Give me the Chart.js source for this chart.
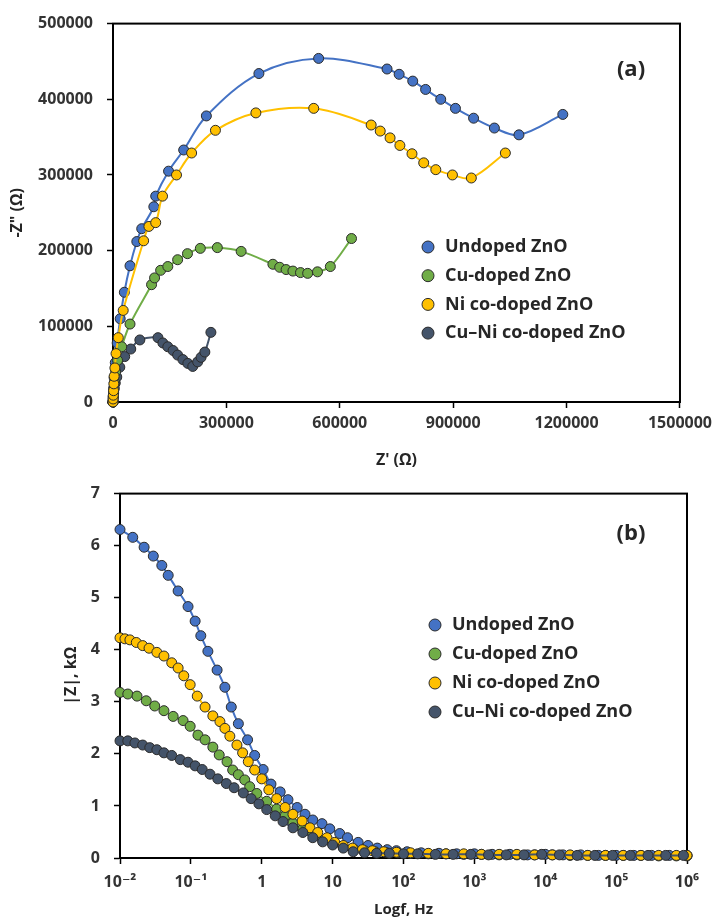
<!DOCTYPE html>
<html>
<head>
<meta charset="utf-8">
<script src="https://cdn.jsdelivr.net/npm/chart.js@4.4.0/dist/chart.umd.min.js"></script>
<style>
  html, body { margin: 0; padding: 0; background: #fff; }
  #wrap { position: relative; width: 718px; height: 921px; }
  canvas { position: absolute; left: 0; }
  #nyquist { top: 0; }
  #bode { top: 470px; }
</style>
</head>
<body>
<div id="wrap">
  <canvas id="nyquist" width="718" height="470"></canvas>
  <canvas id="bode" width="718" height="451"></canvas>
</div>
<script>
const seriesNames = ["Undoped ZnO", "Cu-doped ZnO", "Ni co-doped ZnO", "Cu\u2013Ni co-doped ZnO"];
const seriesColors = ["#4472C4", "#70AD47", "#FFC000", "#44546A"];

// (a) Nyquist: Z' and -Z'' in ohm
const undopedZre = [0, 600, 1500, 3000, 6000, 11000, 19000, 30000, 45000, 63000, 76000, 108000, 113000, 147000, 187000, 247000, 386000, 544000, 725000, 757000, 793000, 827000, 867000, 906000, 954000, 1009000, 1074000, 1190000];
const undopedZim = [0, 8000, 18000, 32000, 52000, 78000, 110000, 145000, 180000, 212000, 229000, 258000, 272000, 305000, 333000, 378000, 434000, 454000, 440000, 433000, 424000, 413000, 400000, 388000, 375000, 362000, 353000, 380000];
const cuZre = [0, 500, 1500, 3500, 7000, 12000, 23000, 45000, 102000, 110000, 126000, 145000, 171000, 197000, 231000, 276000, 339000, 423000, 441000, 458000, 476000, 496000, 515000, 541000, 575000, 631000];
const cuZim = [0, 6000, 14000, 26000, 40000, 55000, 73000, 103000, 155000, 164000, 174000, 179000, 188000, 196000, 203000, 204000, 199000, 182000, 178000, 175000, 173000, 171000, 170000, 172000, 179000, 216000];
const niZre = [0, 300, 800, 1500, 2200, 3000, 5000, 8000, 14000, 27000, 81000, 95000, 113000, 131000, 168000, 208000, 271000, 378000, 531000, 683000, 707000, 733000, 759000, 791000, 822000, 854000, 898000, 948000, 1038000];
const niZim = [0, 4000, 9000, 15000, 24000, 34000, 45000, 64000, 85000, 121000, 213000, 232000, 237000, 272000, 300000, 329000, 359000, 382000, 388000, 366000, 358000, 349000, 339000, 328000, 316000, 307000, 300000, 296000, 329000];
const cuniZre = [0, 300, 800, 1800, 3500, 6000, 10000, 18000, 31000, 47000, 71000, 119000, 132000, 145000, 159000, 171000, 185000, 198000, 211000, 224000, 233000, 243000, 259000];
const cuniZim = [0, 3000, 7000, 12000, 18000, 25000, 33000, 46000, 60000, 70000, 82000, 85000, 78000, 73000, 68000, 62000, 56000, 51000, 47000, 53000, 59000, 66000, 92000];

// (b) |Z| in kOhm against log f
const undopedLogF = [-2.0, -1.82, -1.66, -1.53, -1.41, -1.32, -1.18, -1.04, -0.94, -0.86, -0.76, -0.63, -0.52, -0.43, -0.33, -0.20, -0.10, 0.02, 0.13, 0.26, 0.37, 0.50, 0.61, 0.72, 0.85, 0.96, 1.10, 1.21, 1.36, 1.5, 1.63, 1.77, 1.9, 2.05, 2.25, 2.5, 2.75, 3.0, 3.25, 3.5, 3.75, 4.0, 4.25, 4.5, 4.75, 5.0, 5.25, 5.5, 5.75, 6.0];
const undopedMod = [6.31, 6.16, 5.97, 5.80, 5.62, 5.43, 5.13, 4.83, 4.55, 4.27, 3.97, 3.61, 3.28, 2.90, 2.58, 2.27, 1.97, 1.70, 1.42, 1.27, 1.12, 0.97, 0.84, 0.73, 0.66, 0.56, 0.47, 0.39, 0.30, 0.24, 0.19, 0.16, 0.14, 0.12, 0.10, 0.09, 0.08, 0.08, 0.07, 0.07, 0.06, 0.07, 0.06, 0.06, 0.05, 0.05, 0.05, 0.05, 0.05, 0.05];
const cuLogF = [-2.0, -1.89, -1.76, -1.63, -1.51, -1.38, -1.25, -1.11, -1.01, -0.90, -0.80, -0.69, -0.60, -0.49, -0.41, -0.33, -0.24, -0.17, -0.07, 0.07, 0.21, 0.33, 0.44, 0.58, 0.72, 0.86, 1.00, 1.15, 1.3, 1.45, 1.6, 1.75, 1.92, 2.1, 2.35, 2.6, 2.85, 3.1, 3.35, 3.6, 3.85, 4.1, 4.35, 4.6, 4.85, 5.1, 5.35, 5.6, 5.85, 6.0];
const cuMod = [3.18, 3.15, 3.11, 3.02, 2.92, 2.83, 2.72, 2.64, 2.53, 2.36, 2.27, 2.13, 1.98, 1.85, 1.69, 1.60, 1.50, 1.37, 1.24, 1.09, 0.94, 0.81, 0.67, 0.56, 0.47, 0.34, 0.28, 0.21, 0.17, 0.14, 0.12, 0.11, 0.10, 0.09, 0.08, 0.08, 0.07, 0.07, 0.06, 0.06, 0.06, 0.06, 0.05, 0.05, 0.05, 0.05, 0.05, 0.04, 0.04, 0.04];
const niLogF = [-2.0, -1.93, -1.86, -1.77, -1.68, -1.59, -1.48, -1.38, -1.27, -1.18, -1.10, -1.01, -0.91, -0.80, -0.69, -0.59, -0.52, -0.45, -0.35, -0.27, -0.19, -0.10, 0.00, 0.10, 0.21, 0.33, 0.44, 0.57, 0.68, 0.79, 0.92, 1.03, 1.15, 1.28, 1.42, 1.56, 1.72, 1.9, 2.1, 2.35, 2.6, 2.85, 3.1, 3.35, 3.6, 3.85, 4.1, 4.35, 4.6, 4.85, 5.1, 5.35, 5.6, 5.85, 6.0];
const niMod = [4.23, 4.21, 4.19, 4.14, 4.08, 4.03, 3.95, 3.88, 3.75, 3.65, 3.50, 3.33, 3.11, 2.90, 2.73, 2.62, 2.49, 2.34, 2.17, 2.02, 1.85, 1.69, 1.52, 1.31, 1.14, 0.97, 0.84, 0.71, 0.58, 0.49, 0.39, 0.30, 0.24, 0.19, 0.16, 0.14, 0.12, 0.11, 0.10, 0.09, 0.08, 0.08, 0.07, 0.07, 0.07, 0.06, 0.06, 0.06, 0.05, 0.05, 0.05, 0.05, 0.05, 0.05, 0.05];
const cuniLogF = [-2.0, -1.89, -1.79, -1.68, -1.58, -1.48, -1.38, -1.27, -1.15, -1.04, -0.94, -0.84, -0.73, -0.62, -0.50, -0.39, -0.26, -0.15, -0.04, 0.07, 0.19, 0.30, 0.44, 0.58, 0.72, 0.86, 1.00, 1.15, 1.29, 1.45, 1.62, 1.8, 2.0, 2.2, 2.45, 2.7, 2.95, 3.2, 3.45, 3.7, 3.95, 4.2, 4.45, 4.7, 4.95, 5.2, 5.45, 5.7, 5.95];
const cuniMod = [2.25, 2.25, 2.21, 2.17, 2.12, 2.08, 2.02, 1.97, 1.89, 1.84, 1.77, 1.70, 1.61, 1.52, 1.43, 1.35, 1.25, 1.14, 1.04, 0.93, 0.81, 0.70, 0.58, 0.49, 0.39, 0.31, 0.25, 0.19, 0.12, 0.10, 0.09, 0.09, 0.08, 0.08, 0.07, 0.07, 0.07, 0.06, 0.06, 0.06, 0.07, 0.06, 0.05, 0.05, 0.05, 0.05, 0.05, 0.05, 0.05];

const bodeTickLabels = ["10\u207B\u00B2", "10\u207B\u00B9", "1", "10", "10\u00B2", "10\u00B3", "10\u2074", "10\u2075", "10\u2076"];

const FONT = '"Open Sans", "DejaVu Sans", sans-serif';
const TEXT = "#262626";

function toPoints(xs, ys) {
  return xs.map((x, i) => ({ x: x, y: ys[i] }));
}

function makeSet(i, xs, ys, radius, order) {
  return {
    label: seriesNames[i],
    data: toPoints(xs, ys),
    showLine: true,
    tension: 0.35,
    borderColor: seriesColors[i],
    borderWidth: 2,
    backgroundColor: seriesColors[i],
    pointBackgroundColor: seriesColors[i],
    pointBorderColor: "#2b2b2b",
    pointBorderWidth: 1,
    pointRadius: radius,
    pointHoverRadius: radius,
    clip: false,
    order: order
  };
}

// box round the plot area
const frame = {
  id: "frame",
  beforeDatasetsDraw(chart) {
    const a = chart.chartArea;
    const ctx = chart.ctx;
    ctx.save();
    ctx.strokeStyle = "#000";
    ctx.lineWidth = 2;
    ctx.strokeRect(a.left, a.top, a.right - a.left, a.bottom - a.top);
    ctx.restore();
  }
};

// legend drawn inside the plot plus the panel letter
const insideLegend = {
  id: "insideLegend",
  afterDraw(chart, args, opts) {
    const ctx = chart.ctx;
    ctx.save();
    ctx.textBaseline = "middle";
    ctx.font = "bold 18px " + FONT;
    seriesNames.forEach((name, i) => {
      const y = opts.y + i * opts.gap;
      ctx.beginPath();
      ctx.arc(opts.x, y, 6, 0, Math.PI * 2);
      ctx.fillStyle = seriesColors[i];
      ctx.fill();
      ctx.lineWidth = 1;
      ctx.strokeStyle = "#2b2b2b";
      ctx.stroke();
      ctx.fillStyle = TEXT;
      ctx.textAlign = "left";
      ctx.fillText(name, opts.textX, y);
    });
    ctx.font = "bold 22px " + FONT;
    ctx.textAlign = "center";
    ctx.fillStyle = TEXT;
    ctx.fillText(opts.label, opts.labelX, opts.labelY);
    ctx.restore();
  }
};

function axis(extra) {
  return Object.assign({
    type: "linear",
    border: { display: true, color: "#000", width: 2 },
    grid: { display: true, drawOnChartArea: false, drawTicks: true, tickLength: 6, tickColor: "#000", tickWidth: 1.5 },
  }, extra);
}

const tickFont = { family: FONT, size: 16, weight: "bold" };
const titleFont = { family: FONT, size: 16, weight: "bold" };

new Chart(document.getElementById("nyquist"), {
  type: "scatter",
  data: {
    datasets: [
      makeSet(0, undopedZre, undopedZim, 5, 4),
      makeSet(1, cuZre, cuZim, 5, 2),
      makeSet(2, niZre, niZim, 5, 1),
      makeSet(3, cuniZre, cuniZim, 5, 3)
    ]
  },
  options: {
    responsive: false,
    animation: false,
    layout: { padding: { left: 0, top: 22, right: 34, bottom: 0 } },
    plugins: {
      legend: { display: false },
      tooltip: { enabled: false },
      insideLegend: { x: 428, textX: 445, y: 247, gap: 28.7, label: "(a)", labelX: 631, labelY: 70 }
    },
    scales: {
      x: axis({
        min: 0, max: 1500000,
        afterFit(s) { s.height = 68; },
        ticks: { stepSize: 300000, padding: 6, color: "#333", font: tickFont, maxRotation: 0, callback: v => String(v) },
        title: { display: true, text: "Z' (\u03A9)", color: TEXT, font: titleFont, padding: { top: 0, bottom: 0 } }
      }),
      y: axis({
        min: 0, max: 500000,
        afterFit(s) { s.width = 113; },
        ticks: { stepSize: 100000, padding: 14, color: "#333", font: tickFont, callback: v => String(v) },
        title: { display: true, text: "-Z\" (\u03A9)", color: TEXT, font: titleFont, padding: { top: 8, bottom: 0 } }
      })
    }
  },
  plugins: [frame, insideLegend]
});

new Chart(document.getElementById("bode"), {
  type: "scatter",
  data: {
    datasets: [
      makeSet(0, undopedLogF, undopedMod, 5, 4),
      makeSet(1, cuLogF, cuMod, 5, 3),
      makeSet(2, niLogF, niMod, 5, 2),
      makeSet(3, cuniLogF, cuniMod, 5, 1)
    ]
  },
  options: {
    responsive: false,
    animation: false,
    layout: { padding: { left: 0, top: 14, right: 31, bottom: 0 } },
    plugins: {
      legend: { display: false },
      tooltip: { enabled: false },
      insideLegend: { x: 435, textX: 452, y: 155, gap: 29, label: "(b)", labelX: 631, labelY: 64 }
    },
    scales: {
      x: axis({
        min: -2, max: 6,
        afterFit(s) { s.height = 63; },
        ticks: { stepSize: 1, padding: 9, color: "#333", font: tickFont, maxRotation: 0,
          callback: v => bodeTickLabels[Math.round(v) + 2] },
        title: { display: true, text: "Logf, Hz", color: TEXT, font: { family: FONT, size: 15, weight: "bold" }, padding: { top: 0, bottom: 2 } }
      }),
      y: axis({
        min: 0, max: 7,
        afterFit(s) { s.width = 120; },
        ticks: { stepSize: 1, padding: 14, color: "#333", font: tickFont },
        title: { display: true, text: "|Z|, k\u03A9", color: TEXT, font: titleFont, padding: { top: 62, bottom: 0 } }
      })
    }
  },
  plugins: [frame, insideLegend]
});
</script>
</body>
</html>
